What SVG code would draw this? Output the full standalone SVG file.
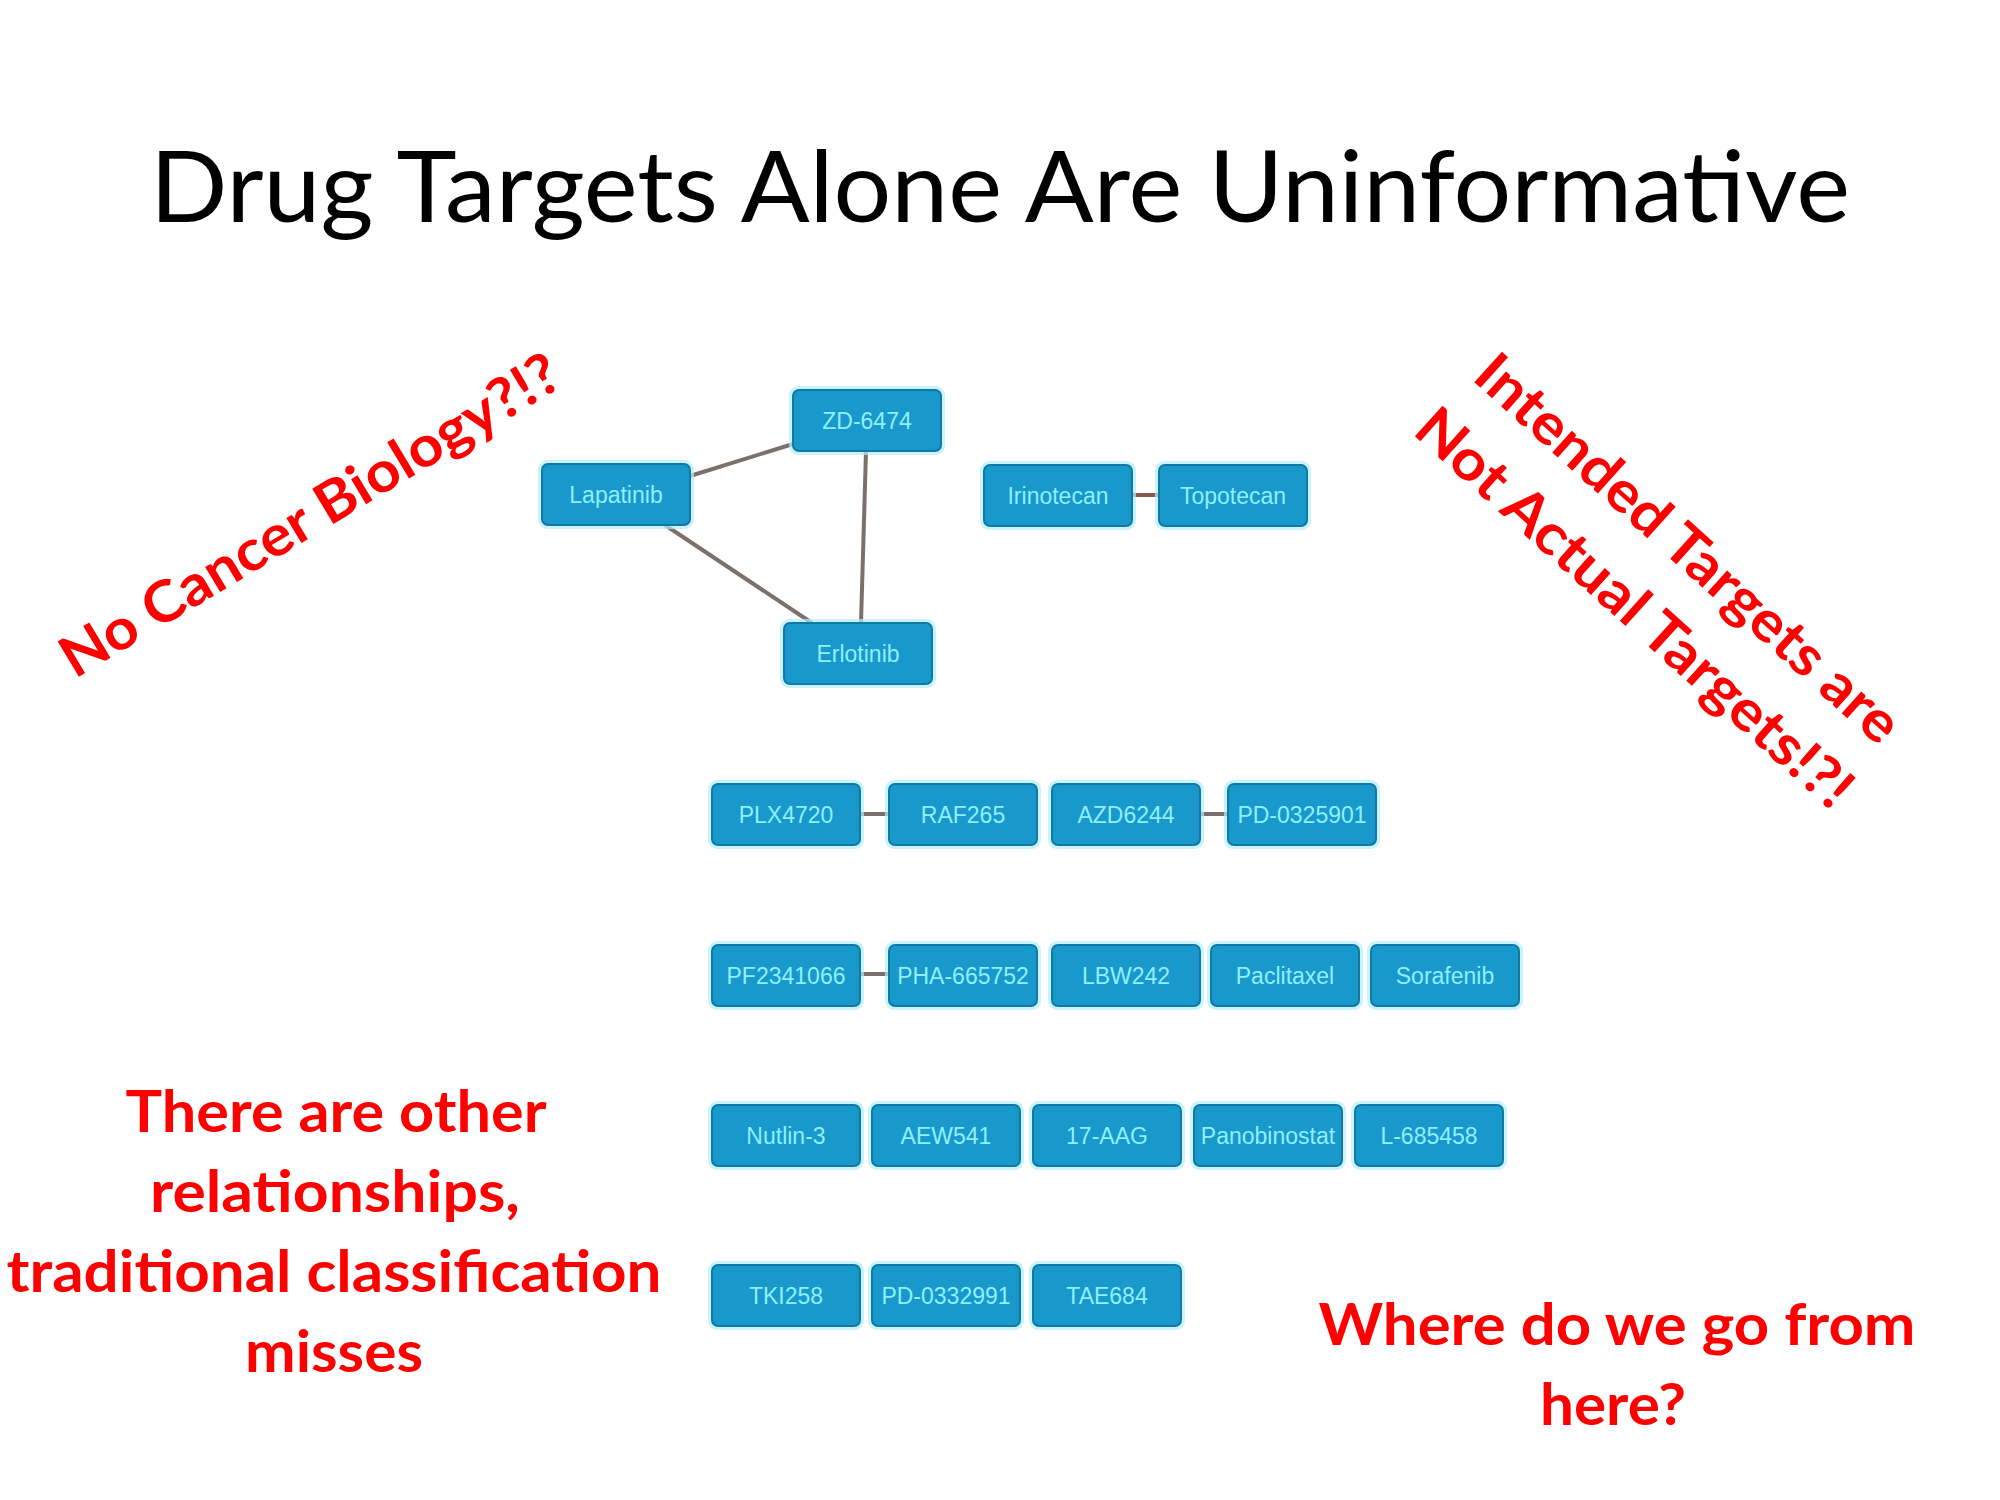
<svg xmlns="http://www.w3.org/2000/svg" width="2000" height="1500" viewBox="0 0 2000 1500">
<style>
.bg{fill:#ffffff}
rect.halo{fill:none;stroke:#b5eefa;stroke-width:4;opacity:0.7}
rect.box{fill:#1898cb;stroke:#0f7aa5;stroke-width:2}
.node text{font-family:"Liberation Sans","Arial",sans-serif;font-size:23px;fill:#8ef0ff;text-anchor:middle}
.edge{stroke:#7b716a;stroke-width:4;fill:none}
.edge.red{stroke:#8a5b4c}
.title{font-family:Lato,"Liberation Sans",sans-serif;font-size:98px;fill:#000000;text-anchor:middle}
.note{font-family:Lato,"Liberation Sans",sans-serif;font-weight:bold;font-size:57px;fill:#ff0000;text-anchor:middle}
</style>
<defs>
<g id="nodeShape">
<rect class="halo" x="-2" y="-2" width="152" height="65" rx="7"/>
<rect class="box" x="0" y="0" width="148" height="61" rx="6"/>
</g>
</defs>
<rect class="bg" x="0" y="0" width="2000" height="1500"/>
<text class="title" x="1000" y="222" textLength="1700" lengthAdjust="spacingAndGlyphs">Drug Targets Alone Are Uninformative</text>

<g id="connectors">
<line class="edge" x1="690" y1="476" x2="793" y2="444"/>
<line class="edge" x1="665" y1="525" x2="812" y2="623"/>
<line class="edge" x1="866" y1="451" x2="861" y2="623"/>
<line class="edge red" x1="1132" y1="495" x2="1159" y2="495"/>
<line class="edge" x1="860" y1="814" x2="889" y2="814"/>
<line class="edge" x1="1200" y1="814" x2="1228" y2="814"/>
<line class="edge" x1="860" y1="974" x2="889" y2="974"/>
</g>

<g id="lapatinib" class="node" transform="translate(542,464)"><use href="#nodeShape"/><text x="74" y="39">Lapatinib</text></g>
<g id="zd6474" class="node" transform="translate(793,390)"><use href="#nodeShape"/><text x="74" y="39">ZD-6474</text></g>
<g id="irinotecan" class="node" transform="translate(984,465)"><use href="#nodeShape"/><text x="74" y="39">Irinotecan</text></g>
<g id="topotecan" class="node" transform="translate(1159,465)"><use href="#nodeShape"/><text x="74" y="39">Topotecan</text></g>
<g id="erlotinib" class="node" transform="translate(784,623)"><use href="#nodeShape"/><text x="74" y="39">Erlotinib</text></g>

<g id="plx4720" class="node" transform="translate(712,784)"><use href="#nodeShape"/><text x="74" y="39">PLX4720</text></g>
<g id="raf265" class="node" transform="translate(889,784)"><use href="#nodeShape"/><text x="74" y="39">RAF265</text></g>
<g id="azd6244" class="node" transform="translate(1052,784)"><use href="#nodeShape"/><text x="74" y="39">AZD6244</text></g>
<g id="pd0325901" class="node" transform="translate(1228,784)"><use href="#nodeShape"/><text x="74" y="39">PD-0325901</text></g>

<g id="pf2341066" class="node" transform="translate(712,945)"><use href="#nodeShape"/><text x="74" y="39">PF2341066</text></g>
<g id="pha665752" class="node" transform="translate(889,945)"><use href="#nodeShape"/><text x="74" y="39">PHA-665752</text></g>
<g id="lbw242" class="node" transform="translate(1052,945)"><use href="#nodeShape"/><text x="74" y="39">LBW242</text></g>
<g id="paclitaxel" class="node" transform="translate(1211,945)"><use href="#nodeShape"/><text x="74" y="39">Paclitaxel</text></g>
<g id="sorafenib" class="node" transform="translate(1371,945)"><use href="#nodeShape"/><text x="74" y="39">Sorafenib</text></g>

<g id="nutlin3" class="node" transform="translate(712,1105)"><use href="#nodeShape"/><text x="74" y="39">Nutlin-3</text></g>
<g id="aew541" class="node" transform="translate(872,1105)"><use href="#nodeShape"/><text x="74" y="39">AEW541</text></g>
<g id="aag17" class="node" transform="translate(1033,1105)"><use href="#nodeShape"/><text x="74" y="39">17-AAG</text></g>
<g id="panobinostat" class="node" transform="translate(1194,1105)"><use href="#nodeShape"/><text x="74" y="39">Panobinostat</text></g>
<g id="l685458" class="node" transform="translate(1355,1105)"><use href="#nodeShape"/><text x="74" y="39">L-685458</text></g>

<g id="tki258" class="node" transform="translate(712,1265)"><use href="#nodeShape"/><text x="74" y="39">TKI258</text></g>
<g id="pd0332991" class="node" transform="translate(872,1265)"><use href="#nodeShape"/><text x="74" y="39">PD-0332991</text></g>
<g id="tae684" class="node" transform="translate(1033,1265)"><use href="#nodeShape"/><text x="74" y="39">TAE684</text></g>

<text class="note" transform="translate(320,532) rotate(-31)" x="0" y="0" textLength="572" lengthAdjust="spacingAndGlyphs">No Cancer Biology?!?</text>
<g transform="translate(1675,563) rotate(42)">
<text class="note" x="0" y="0" textLength="550" lengthAdjust="spacingAndGlyphs">Intended Targets are</text>
<text class="note" x="0" y="80" textLength="566" lengthAdjust="spacingAndGlyphs">Not Actual Targets!?!</text>
</g>

<text class="note" x="336" y="1132" textLength="421" lengthAdjust="spacingAndGlyphs">There are other</text>
<text class="note" x="335" y="1212" textLength="370" lengthAdjust="spacingAndGlyphs">relationships,</text>
<text class="note" x="334" y="1292" textLength="655" lengthAdjust="spacingAndGlyphs">traditional classification</text>
<text class="note" x="334" y="1372" textLength="178" lengthAdjust="spacingAndGlyphs">misses</text>

<text class="note" x="1617" y="1345" textLength="597" lengthAdjust="spacingAndGlyphs">Where do we go from</text>
<text class="note" x="1613" y="1425" textLength="146" lengthAdjust="spacingAndGlyphs">here?</text>
</svg>
